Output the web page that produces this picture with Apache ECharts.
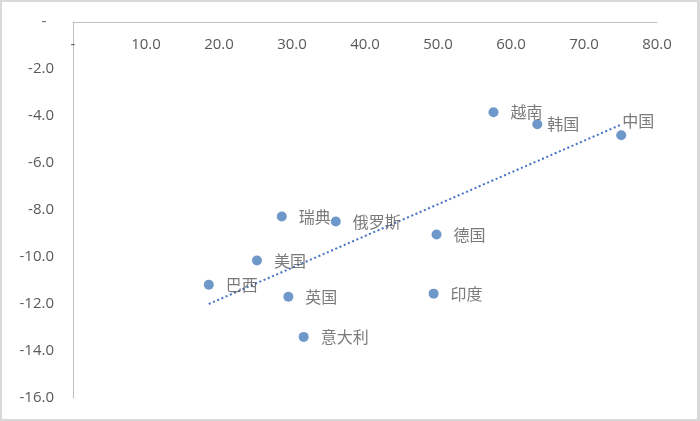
<!DOCTYPE html>
<html>
<head>
<meta charset="utf-8">
<script src="https://cdn.jsdelivr.net/npm/echarts@6/dist/echarts.min.js"></script>
<style>
  html, body { margin: 0; padding: 0; background: #d9d9d9; }
  #chart { position: absolute; left: 2px; top: 2px; width: 695px; height: 417px; background: #ffffff; }
</style>
</head>
<body>
<div id="chart"></div>
<script>
// ---- data ----
const countries = ['越南', '韩国', '中国', '瑞典', '俄罗斯', '德国', '美国', '巴西', '英国', '印度', '意大利'];
const xValues   = [57.6, 63.6, 75.1, 28.6, 36.0, 49.8, 25.2, 18.6, 29.5, 49.4, 31.6];
const yValues   = [-3.84, -4.35, -4.82, -8.28, -8.49, -9.04, -10.15, -11.18, -11.69, -11.56, -13.4];
const xAxisRange = [0, 80, 10];
const yAxisRange = [-16, 0, 2];

// per-label placement adjustments (style, not data)
const labelTweaks = {
  '韩国': { distance: 5 },
  '中国': { offset: [-16, -14] }
};

// linear trendline (least squares) from the data
const n = xValues.length;
const mx = xValues.reduce((a, b) => a + b, 0) / n;
const my = yValues.reduce((a, b) => a + b, 0) / n;
let sxy = 0, sxx = 0;
for (let i = 0; i < n; i++) { sxy += (xValues[i] - mx) * (yValues[i] - my); sxx += (xValues[i] - mx) ** 2; }
const slope = sxy / sxx, intercept = my - slope * mx;
const xMin = Math.min(...xValues), xMax = Math.max(...xValues);
const trend = [[xMin, intercept + slope * xMin], [xMax, intercept + slope * xMax]];

const labelColor = '#595959';
const axisColor = '#bfbfbf';
const dotColor = '#4A7EBB';

const chart = echarts.init(document.getElementById('chart'));
chart.setOption({
  animation: false,
  grid: { left: 71, top: 20, right: 40, bottom: 21 },
  xAxis: {
    type: 'value', position: 'top',
    min: xAxisRange[0], max: xAxisRange[1], interval: xAxisRange[2],
    axisLine: { show: true, onZero: false, lineStyle: { color: axisColor, width: 1 } },
    axisTick: { show: false },
    splitLine: { show: false },
    axisLabel: {
      inside: true, margin: 15, color: labelColor, fontSize: 15, fontFamily: 'Open Sans',
      formatter: v => v === 0 ? '-' : v.toFixed(1)
    }
  },
  yAxis: {
    type: 'value',
    min: yAxisRange[0], max: yAxisRange[1], interval: yAxisRange[2],
    axisLine: { show: true, onZero: false, lineStyle: { color: axisColor, width: 1 } },
    axisTick: { show: false },
    splitLine: { show: false },
    axisLabel: {
      margin: 19, color: labelColor, fontSize: 15, fontFamily: 'Open Sans',
      formatter: v => v === 0 ? '-  ' : v.toFixed(1)
    }
  },
  series: [
    {
      type: 'line', data: trend, symbol: 'none', silent: true,
      lineStyle: { color: '#4472C4', width: 2, type: [2, 2.6] },
      z: 1
    },
    {
      type: 'scatter', symbolSize: 10, z: 3,
      itemStyle: { color: dotColor },
      label: {
        show: true, position: 'right', distance: 12,
        color: labelColor, fontSize: 16, fontFamily: 'Noto Sans CJK SC',
        formatter: p => p.name
      },
      data: countries.map((c, i) => {
        const d = { name: c, value: [xValues[i], yValues[i]] };
        if (labelTweaks[c]) d.label = labelTweaks[c];
        return d;
      })
    }
  ]
});
</script>
</body>
</html>
